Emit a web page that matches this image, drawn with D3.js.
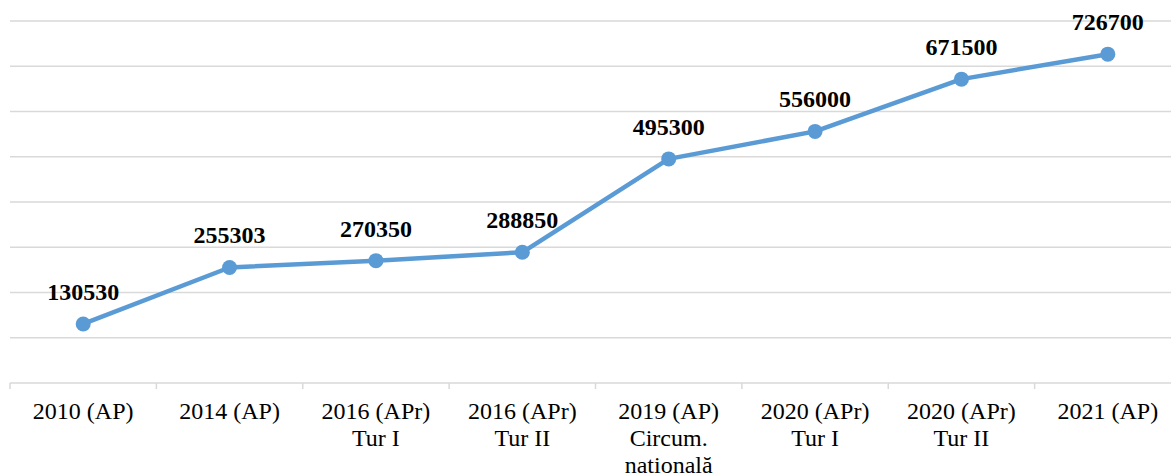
<!DOCTYPE html>
<html>
<head>
<meta charset="utf-8">
<script src="https://cdn.jsdelivr.net/npm/d3@7"></script>
<style>
  body { margin: 0; background: #fff; }
  svg { display: block; }
  svg text { font-family: "Liberation Serif", "Times New Roman", Times, "DejaVu Serif", serif; }
</style>
</head>
<body>
<div id="chart"></div>
<script>
// categories (line breaks as \n)
const categories = [
    "2010 (AP)",
    "2014 (AP)",
    "2016 (APr)\nTur I",
    "2016 (APr)\nTur II",
    "2019 (AP)\nCircum.\nnatională",
    "2020 (APr)\nTur I",
    "2020 (APr)\nTur II",
    "2021 (AP)"
];
const values = [130530, 255303, 270350, 288850, 495300, 556000, 671500, 726700];
const yTicks = [100000, 200000, 300000, 400000, 500000, 600000, 700000, 800000];

const width = 1171, height = 475;
const margin = {top: 21, left: 10, bottom: 92};
const data = categories.map((c, i) => ({cat: c, value: values[i]}));

const x = d3.scaleBand().domain(categories)
    .range([margin.left, 1181])
    .padding(0);

const y = d3.scaleLinear().domain([0, 800000])
    .range([height - margin.bottom, margin.top]);

const svg = d3.select("#chart").append("svg")
    .attr("width", width)
    .attr("height", height)
    .attr("viewBox", [0, 0, width, height]);

// gridlines
svg.append("g")
    .selectAll("line")
    .data(yTicks)
    .join("line")
    .attr("x1", margin.left)
    .attr("x2", width)
    .attr("y1", d => y(d))
    .attr("y2", d => y(d))
    .attr("stroke", "#d9d9d9")
    .attr("stroke-width", 1.5);

// x axis
const xAxis = svg.append("g")
    .attr("transform", `translate(0,${y(0)})`);

xAxis.append("line")
    .attr("x1", margin.left)
    .attr("x2", width)
    .attr("stroke", "#d9d9d9")
    .attr("stroke-width", 1.5);

xAxis.selectAll(".tick-mark")
    .data(categories)
    .join("line")
    .attr("class", "tick-mark")
    .attr("x1", d => x(d))
    .attr("x2", d => x(d))
    .attr("y1", 0)
    .attr("y2", 6)
    .attr("stroke", "#d9d9d9")
    .attr("stroke-width", 1.5);

xAxis.selectAll(".tick-label")
    .data(categories)
    .join("text")
    .attr("class", "tick-label")
    .attr("text-anchor", "middle")
    .attr("font-size", 24)
    .attr("fill", "#000")
    .each(function(d) {
        const t = d3.select(this);
        d.split("\n").forEach((line, i) => {
            t.append("tspan")
                .attr("x", x(d) + x.bandwidth() / 2)
                .attr("y", 36 + i * 27)
                .text(line);
        });
    });

// line
const line = d3.line()
    .x(d => x(d.cat) + x.bandwidth() / 2)
    .y(d => y(d.value));

svg.append("path")
    .datum(data)
    .attr("fill", "none")
    .attr("stroke", "#5b9bd5")
    .attr("stroke-width", 4.5)
    .attr("stroke-linejoin", "round")
    .attr("d", line);

svg.append("g")
    .selectAll("circle")
    .data(data)
    .join("circle")
    .attr("cx", d => x(d.cat) + x.bandwidth() / 2)
    .attr("cy", d => y(d.value))
    .attr("r", 7.5)
    .attr("fill", "#5b9bd5");

// value labels
svg.append("g")
    .selectAll("text")
    .data(data)
    .join("text")
    .attr("x", d => x(d.cat) + x.bandwidth() / 2)
    .attr("y", d => y(d.value) - 24)
    .attr("text-anchor", "middle")
    .attr("font-weight", "bold")
    .attr("font-size", 24)
    .attr("fill", "#000")
    .text(d => d.value);
</script>
</body>
</html>
